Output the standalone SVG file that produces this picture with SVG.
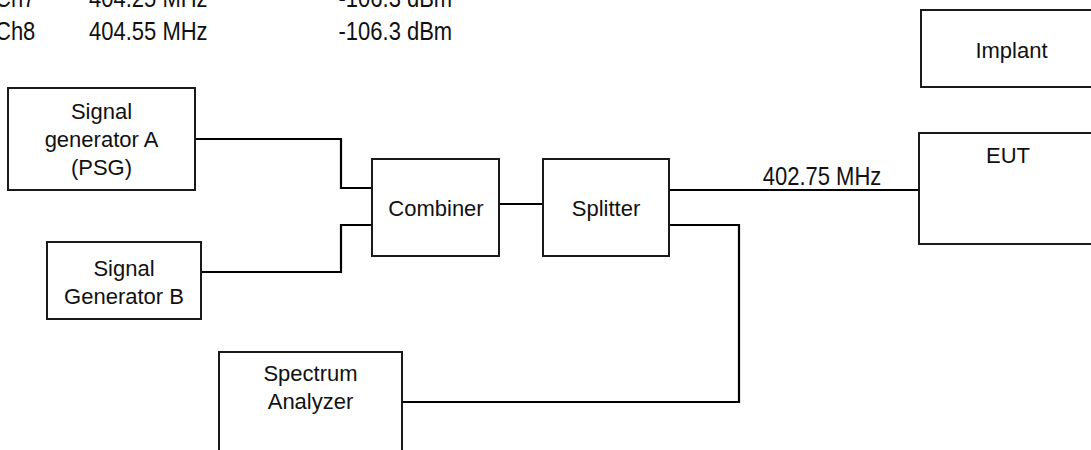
<svg xmlns="http://www.w3.org/2000/svg" width="1091" height="450" viewBox="0 0 1091 450">
<style>
.box{fill:#fff;stroke:#1a1a1a;stroke-width:2}
.t{font-family:"Liberation Sans",Arial,sans-serif;font-size:22px;fill:#111}
.c{text-anchor:middle}
.w{fill:none;stroke:#000;stroke-width:2.2}
</style>
<rect width="1091" height="450" fill="#fff"/>
<g id="table" transform="scale(1,1.17)">
<text class="t" x="-5" y="6.2">Ch7</text>
<text class="t" x="89" y="6.2">404.25 MHz</text>
<text class="t" x="338.5" y="6.2">-106.3 dBm</text>
<text class="t" x="-5" y="34.6">Ch8</text>
<text class="t" x="89" y="34.6">404.55 MHz</text>
<text class="t" x="338.5" y="34.6">-106.3 dBm</text>
</g>
<g id="connectors">
<polyline class="w" points="195,139 341,139 341,188 372,188"/>
<polyline class="w" points="202,272 341,272 341,225 372,225"/>
<line class="w" x1="499" y1="204" x2="543" y2="204"/>
<line class="w" x1="669" y1="190" x2="919" y2="190"/>
<polyline class="w" points="669,225 739,225 739,402 402,402"/>
<text class="t c" x="822" y="157.7" transform="scale(1,1.17)">402.75 MHz</text>
</g>
<g id="sigA">
<rect class="box" x="8" y="88" width="187" height="102"/>
<text class="t c" x="101.5" y="119">Signal</text>
<text class="t c" x="101.5" y="147">generator A</text>
<text class="t c" x="101.5" y="175">(PSG)</text>
</g>
<g id="sigB">
<rect class="box" x="47" y="242" width="154" height="77"/>
<text class="t c" x="124" y="276">Signal</text>
<text class="t c" x="124" y="304">Generator B</text>
</g>
<g id="combiner">
<rect class="box" x="372" y="159" width="127" height="97"/>
<text class="t c" x="436" y="216">Combiner</text>
</g>
<g id="splitter">
<rect class="box" x="543" y="159" width="126" height="97"/>
<text class="t c" x="606" y="216">Splitter</text>
</g>
<g id="implant">
<rect class="box" x="921" y="10" width="200" height="77"/>
<text class="t c" x="1011.5" y="58">Implant</text>
</g>
<g id="eut">
<rect class="box" x="919" y="133" width="200" height="111"/>
<text class="t c" x="1008" y="163">EUT</text>
</g>
<g id="spectrum">
<rect class="box" x="219" y="352" width="183" height="120"/>
<text class="t c" x="310.5" y="381">Spectrum</text>
<text class="t c" x="310.5" y="409">Analyzer</text>
</g>
</svg>
